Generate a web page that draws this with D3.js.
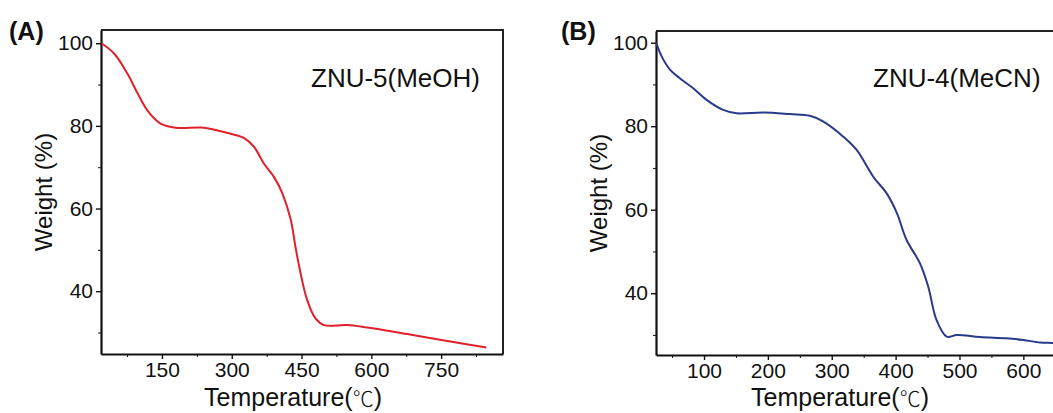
<!DOCTYPE html>
<html>
    <head>
        <script src="https://d3js.org/d3.v7.min.js"></script>
        <style>
            body { margin: 0; background: #fff; }
            svg { display: block; }
            text { font-family: 'Liberation Sans', Arial, sans-serif; fill: #111; }
            .axis path, .axis line { stroke: #111; }
        </style>
    </head>
    <body>
    <script>
        // ZNU-5 (MeOH) TGA curve
        var tempA = [20, 48, 76, 98, 119, 148, 184, 234, 270, 298, 326, 348, 369, 391, 409, 427, 437, 448, 462, 480, 498, 548, 591, 648, 698, 770, 847]
        var weightA = [100, 97.4, 92.6, 87.8, 83.7, 80.5, 79.5, 79.6, 78.9, 78.1, 77.1, 74.9, 70.9, 67.6, 63.6, 57.2, 50.7, 44.3, 37.9, 33.4, 31.8, 31.8, 31.2, 30.2, 29.2, 27.8, 26.4]
        // ZNU-4 (MeCN) TGA curve
        var tempB = [25, 34, 47, 62, 83, 104, 130, 151, 193, 235, 266, 287, 318, 339, 365, 386, 402, 417, 438, 451, 464, 480, 496, 532, 574, 600, 626, 646, 670]
        var weightB = [100, 96.6, 93.5, 91.5, 89.1, 86.3, 83.9, 83.1, 83.3, 82.9, 82.5, 81.1, 77.5, 74.3, 67.9, 63.9, 59.2, 52.8, 47.2, 41.6, 33.6, 29.6, 30.0, 29.5, 29.2, 28.8, 28.2, 28.1, 27.9]

        var ticksA = [150, 300, 450, 600, 750]
        var minorA = [75, 225, 375, 525, 675, 825]
        var ticksB = [100, 200, 300, 400, 500, 600]
        var minorB = [50, 150, 250, 350, 450, 550, 650]
        var ticksY = [40, 60, 80, 100]
        var minorY = [30, 50, 70, 90]

        var W = 1053, H = 413
        var svg = d3.select('body').append('svg').attr('width', W).attr('height', H)

        function panel(o){
            var x = d3.scaleLinear().domain(o.xdom).range([o.left, o.left + o.width])
            var y = d3.scaleLinear().domain(o.ydom).range([o.top + o.height, o.top])
            var bottom = o.top + o.height
            var right = o.left + o.width

            // top and right frame
            svg.append('path')
                .attr('d', 'M' + o.left + ',' + o.top + 'H' + right + 'V' + bottom)
                .attr('fill', 'none').attr('stroke', '#222').attr('stroke-width', 2)

            // minor ticks
            svg.append('g').attr('class', 'axis')
                .attr('transform', 'translate(0,' + bottom + ')')
                .call(d3.axisBottom(x).tickValues(o.minorX).tickSize(3).tickFormat(''))
                .call(function(g){ g.select('.domain').remove() })
            svg.append('g').attr('class', 'axis')
                .attr('transform', 'translate(' + o.left + ',0)')
                .call(d3.axisLeft(y).tickValues(minorY).tickSize(3).tickFormat(''))
                .call(function(g){ g.select('.domain').remove() })

            // major ticks
            var gx = svg.append('g').attr('class', 'axis')
                .attr('transform', 'translate(0,' + bottom + ')')
                .call(d3.axisBottom(x).tickValues(o.ticksX).tickSizeInner(5).tickSizeOuter(0).tickPadding(3))
            gx.select('.domain').attr('stroke-width', 2.2)
            gx.selectAll('line').attr('stroke-width', 1.4)
            gx.selectAll('text').attr('font-size', 21).style('font-family', "'Liberation Sans', Arial, sans-serif")

            var gy = svg.append('g').attr('class', 'axis')
                .attr('transform', 'translate(' + o.left + ',0)')
                .call(d3.axisLeft(y).tickValues(ticksY).tickSizeInner(5).tickSizeOuter(0).tickPadding(3))
            gy.select('.domain').attr('stroke-width', 2.2)
            gy.selectAll('line').attr('stroke-width', 1.4)
            gy.selectAll('text').attr('font-size', 21).style('font-family', "'Liberation Sans', Arial, sans-serif")

            // curve
            var pts = o.temp.map(function(t, i){ return [t, o.weight[i]] })
            var line = d3.line()
                .x(function(d){ return x(d[0]) })
                .y(function(d){ return y(d[1]) })
                .curve(d3.curveCatmullRom.alpha(0.5))
            svg.append('clipPath').attr('id', 'clip' + o.id)
                .append('rect').attr('x', o.left).attr('y', o.top).attr('width', o.width).attr('height', o.height)
            svg.append('path')
                .attr('d', line(pts))
                .attr('clip-path', 'url(#clip' + o.id + ')')
                .attr('fill', 'none')
                .attr('stroke', o.color)
                .attr('stroke-width', 2)

            // labels
            svg.append('text')
                .attr('x', o.tagX).attr('y', 40)
                .attr('font-size', 25).attr('font-weight', 'bold')
                .text(o.tag)
            svg.append('text')
                .attr('x', o.nameX).attr('y', 87)
                .attr('font-size', 26)
                .text(o.name)
            svg.append('text')
                .attr('transform', 'translate(' + (o.left - 57) + ',' + (o.top + o.height / 2) + ') rotate(-90)')
                .attr('text-anchor', 'middle').attr('dy', '0.35em')
                .attr('font-size', 24)
                .text('Weight (%)')
            var t = svg.append('text')
                .attr('x', o.titleX).attr('y', 406)
                .attr('text-anchor', 'middle')
                .attr('font-size', 25)
            t.append('tspan').text('Temperature(')
            t.append('tspan').style('font-family', "'Noto Sans CJK SC', sans-serif").attr('font-weight', 300).attr('font-size', 21).text('℃')
            t.append('tspan').text(')')
        }

        panel({
            id: 'A', left: 101, top: 30, width: 402, height: 324,
            xdom: [19, 883], ydom: [24.8, 103.2],
            ticksX: ticksA, minorX: minorA,
            temp: tempA, weight: weightA, color: '#e0202a',
            tagX: 9, tag: '(A)', name: 'ZNU-5(MeOH)', nameX: 311, titleX: 293
        })

        panel({
            id: 'B', left: 656, top: 31, width: 527, height: 324,
            xdom: [24.8, 850], ydom: [25.2, 102.8],
            ticksX: ticksB, minorX: minorB,
            temp: tempB, weight: weightB, color: '#2a3a8a',
            tagX: 561, tag: '(B)', name: 'ZNU-4(MeCN)', nameX: 873, titleX: 840
        })
    </script>
    </body>
</html>
